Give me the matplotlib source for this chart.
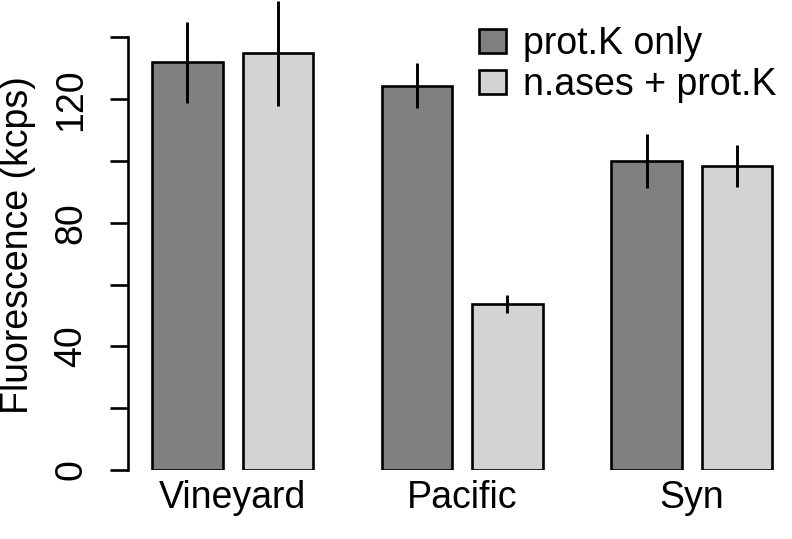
import matplotlib
matplotlib.use("Agg")
import matplotlib.pyplot as plt
import numpy as np

plt.rcParams['font.family'] = ['Liberation Sans', 'DejaVu Sans']

categories = ["Vineyard", "Pacific", "Syn"]
series_names = ["prot.K only", "n.ases + prot.K"]
prot_k_only = [131.9, 124.3, 100.0]
prot_k_only_err = [13.0, 7.3, 8.7]
nases_prot_k = [134.8, 53.7, 98.4]
nases_prot_k_err = [17.0, 3.0, 6.7]
yticks = [0, 20, 40, 60, 80, 100, 120, 140]
ytick_labels = ["0", "", "40", "", "80", "", "120", ""]

colors = ["#808080", "#d3d3d3"]

W, H = 792, 539
fig = plt.figure(figsize=(W / 100, H / 100), dpi=100)
ax = fig.add_axes([128 / W, 69 / H, 1 - 128 / W, 1 - 69 / H])

group_step = 3.26
offset = 0.642
g = np.arange(len(categories)) * group_step
fs = 27

for vals, errs, col, name, sgn in [
    (prot_k_only, prot_k_only_err, colors[0], series_names[0], -1),
    (nases_prot_k, nases_prot_k_err, colors[1], series_names[1], 1),
]:
    xs = g + sgn * offset
    ax.bar(xs, vals, width=1.0, color=col, edgecolor="black", linewidth=1.9,
           label=name, zorder=2)
    ax.errorbar(xs, vals, yerr=errs, fmt="none", ecolor="black",
                elinewidth=2.1, capsize=0, zorder=3, clip_on=False)

ax.set_xlim(-1.486, 7.942)
ax.set_ylim(0, 152.1)

for s in ["top", "right", "bottom"]:
    ax.spines[s].set_visible(False)
ax.spines["left"].set_bounds(0, 140)
ax.spines["left"].set_linewidth(1.9)

ax.set_yticks(yticks)
ax.set_yticklabels(ytick_labels, rotation=90, va="center", fontsize=fs)
ax.tick_params(axis="y", length=13, width=1.9, pad=15)

ax.set_xticks(g)
ax.set_xticklabels(categories, fontsize=fs)
ax.tick_params(axis="x", length=0, pad=7)

fig.text(18 / W, 1 - 245 / H, "Fluorescence (kcps)", rotation=90,
         ha="center", va="center", fontsize=fs)

ax.legend(loc="upper left", bbox_to_anchor=(479 / W, 1 - 26 / H),
          bbox_transform=fig.transFigure, frameon=False, fontsize=fs,
          handlelength=0.72, handleheight=0.587, handletextpad=0.45,
          labelspacing=0.14, borderpad=0, borderaxespad=0)

fig.savefig("out.png", dpi=100)
